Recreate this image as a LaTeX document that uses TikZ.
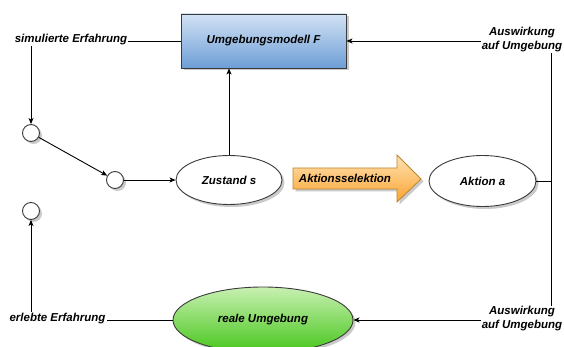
\documentclass[tikz,border=0pt]{standalone}
\usepackage{fontspec}
\setmainfont{Liberation Sans}
\usetikzlibrary{arrows.meta,shapes.geometric,shadows}

\definecolor{boxtop}{HTML}{D2E2F4}
\definecolor{boxbot}{HTML}{6E9ED6}
\definecolor{greentop}{HTML}{C8F0B2}
\definecolor{greenbot}{HTML}{46C61A}
\definecolor{orangetop}{HTML}{FFE2B4}
\definecolor{orangebot}{HTML}{FBA430}
\definecolor{orangeline}{HTML}{B8862E}
\definecolor{edge}{HTML}{3A3A3A}

\tikzset{
  txt/.style={font=\fontsize{11.5}{14}\selectfont\bfseries\itshape},
  lbl/.style={txt, inner sep=1pt},
  shade drop/.style={drop shadow={shadow xshift=2.5pt, shadow yshift=-2.5pt, opacity=0.35, fill=black!60}},
  modelbox/.style={txt, draw=edge, line width=0.9pt, top color=boxtop, bottom color=boxbot,
    minimum width=165pt, minimum height=54pt, inner sep=0pt, shade drop},
  dot/.style={circle, draw=edge, line width=0.9pt, fill=white, minimum size=17pt, inner sep=0pt, shade drop},
  oval/.style={txt, ellipse, draw=edge, line width=0.9pt, fill=white, inner sep=0pt, shade drop},
  envoval/.style={txt, ellipse, draw=edge, line width=0.9pt, top color=greentop, bottom color=greenbot,
    minimum width=180pt, minimum height=66pt, inner sep=0pt, shade drop},
  conn/.style={line width=0.9pt, draw=black},
  arr/.style={conn, -{Stealth[length=6pt, width=5pt, inset=1.5pt]}},
}

\begin{document}
\begin{tikzpicture}[x=1pt, y=-1pt]
  \useasboundingbox (0,0) rectangle (564,347);
  \clip (0,0) rectangle (564,347);

  % nodes of the loop
  \node[modelbox] (F) at (263.5,41) {Umgebungsmodell F};
  \node[lbl] (sim) at (71,39.5) {simulierte Erfahrung};
  \node[dot] (c1) at (31,133) {};
  \node[dot] (c2) at (115,180) {};
  \node[dot] (c3) at (31,211) {};
  \node[oval, minimum width=106pt, minimum height=49pt] (s) at (229,180) {Zustand s};
  \node[oval, minimum width=107pt, minimum height=51pt] (a) at (482.5,181) {Aktion a};
  \node[envoval] (env) at (263,320) {reale Umgebung};
  \node[lbl] (erl) at (57.5,318.5) {erlebte Erfahrung};
  \coordinate (cor) at (551,181);

  % action selection arrow
  \shade[top color=orangetop, bottom color=orangebot, draw=orangeline, line width=0.8pt,
         drop shadow={shadow xshift=2.5pt, shadow yshift=-2.5pt, opacity=0.35, fill=black!60}]
    (293,168) -- (397,168) -- (397,155) -- (421,179) -- (397,202) -- (397,189) -- (293,189) -- cycle;
  \node[lbl] (sel) at (345,178) {Aktionsselektion};

  % connectors
  \draw[conn] (F.west) -- (F.west -| sim.east);
  \draw[arr] (c1 |- sim.south) -- (c1.north);
  \draw[arr] (c1) -- (c2);
  \draw[arr] (c2) -- (s);
  \draw[arr] (s.north) -- (s.north |- F.south);
  \draw[conn] (a.east) -- (cor);
  \draw[arr] (cor) |- (F.east);
  \draw[arr] (cor) |- (env.east);
  \draw[conn] (env.west) -- (env.west -| erl.east);
  \draw[arr] (c3 |- erl.north) -- (c3.south);

  % edge labels on the right
  \node[lbl, align=center, fill=white, inner sep=0.5pt] (topl) at (522,40) {Auswirkung\\auf Umgebung};
  \node[lbl, align=center, fill=white, inner sep=0.5pt] (botl) at (522,319) {Auswirkung\\auf Umgebung};
\end{tikzpicture}
\end{document}
